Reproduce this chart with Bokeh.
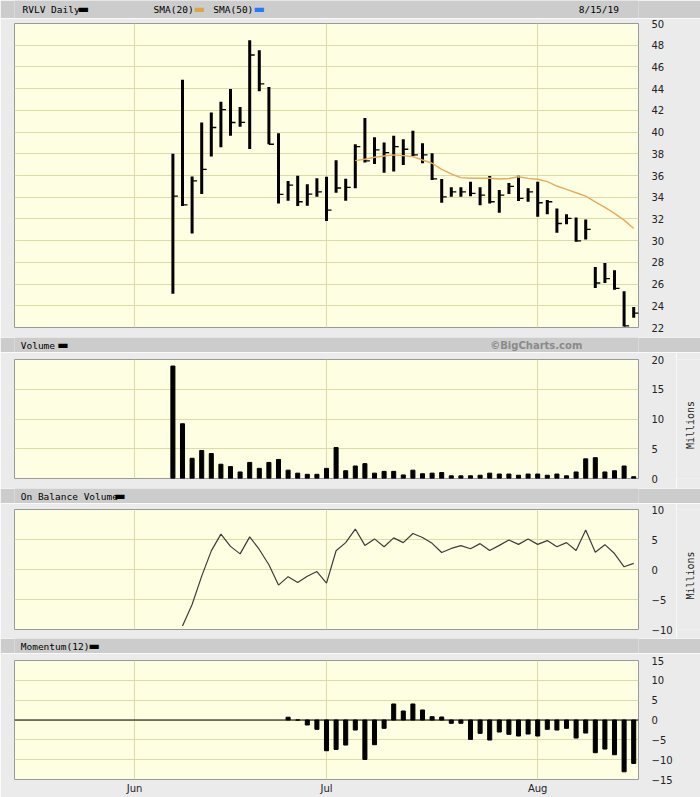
from math import pi
from bokeh.plotting import figure
from bokeh.layouts import column, row
from bokeh.models import Range1d, FixedTicker, Label, Span
from bokeh.embed import file_html
from bokeh.resources import INLINE

# ---------------- data ----------------
dates = ["6/7", "6/10", "6/11", "6/12", "6/13", "6/14", "6/17", "6/18", "6/19", "6/20",
         "6/21", "6/24", "6/25", "6/26", "6/27", "6/28", "7/1", "7/2", "7/3", "7/5",
         "7/8", "7/9", "7/10", "7/11", "7/12", "7/15", "7/16", "7/17", "7/18", "7/19",
         "7/22", "7/23", "7/24", "7/25", "7/26", "7/29", "7/30", "7/31", "8/1", "8/2",
         "8/5", "8/6", "8/7", "8/8", "8/9", "8/12", "8/13", "8/14", "8/15"]

high = [38.0, 44.83, 35.9, 40.88, 41.8, 42.8, 43.97, 42.3, 48.46, 47.54,
        44.15, 39.9, 35.49, 35.98, 35.19, 35.74, 35.89, 37.4, 35.7, 38.88,
        41.29, 39.53, 39.03, 39.65, 39.35, 40.12, 38.98, 38.05, 35.68, 34.91,
        34.91, 35.43, 34.91, 35.96, 34.66, 35.3, 35.97, 34.82, 35.43, 33.74,
        32.97, 32.44, 32.14, 31.95, 27.57, 27.94, 27.27, 25.35, 23.88]
low = [25.1, 33.18, 30.66, 34.3, 37.74, 38.6, 39.65, 40.5, 38.45, 43.75,
       38.88, 33.43, 33.67, 33.18, 33.21, 34.04, 31.82, 34.41, 33.67, 34.82,
       37.2, 37.07, 36.26, 36.36, 36.97, 37.8, 37.13, 35.59, 33.49, 34.04,
       34.04, 34.1, 33.27, 33.43, 32.57, 34.3, 33.66, 33.58, 32.19, 32.44,
       30.72, 31.52, 29.89, 30.1, 25.63, 26.1, 25.48, 22.1, 22.9]
close = [34.1, 33.3, 35.5, 36.57, 40.42, 42.06, 40.88, 40.9, 47.1, 44.43,
         38.88, 34.26, 35.12, 33.58, 34.29, 34.5, 32.81, 34.85, 34.9, 38.66,
         37.34, 38.36, 38.11, 38.66, 38.42, 37.9, 37.9, 35.68, 34.04, 34.5,
         34.5, 34.36, 34.2, 33.58, 34.2, 35.0, 33.9, 34.5, 33.49, 33.58,
         31.58, 32.05, 29.97, 31.03, 26.1, 26.5, 25.6, 22.15, 23.32]

# SMA(20): first value on the 20th trading day (7/5)
sma20 = [37.37, 37.5, 37.68, 37.8, 37.9, 37.83, 37.74, 37.43, 37.13, 36.57,
         36.14, 35.8, 35.74, 35.74, 35.74, 35.68, 35.72, 35.89, 35.74, 35.65,
         35.43, 35.03, 34.73, 34.41, 34.1, 33.58, 33.06, 32.51, 31.89, 31.12]

# volume, millions
volume = [18.9, 9.2, 3.4, 4.7, 4.2, 2.4, 2.0, 1.1, 2.7, 1.7,
          2.7, 3.2, 1.4, 0.9, 0.7, 0.7, 1.7, 5.2, 1.3, 2.1,
          2.5, 0.9, 1.2, 1.2, 0.6, 1.4, 0.8, 0.9, 1.0, 0.45,
          0.45, 0.45, 0.55, 0.9, 0.75, 0.75, 0.55, 0.75, 0.75, 0.55,
          0.75, 0.45, 1.1, 3.3, 3.5, 1.1, 1.3, 2.1, 0.3]

# on balance volume, millions (from the 2nd trading day)
obv = [-9.4, -5.84, -1.1, 3.1, 5.9, 3.85, 2.6, 5.44, 3.34, 0.8,
       -2.6, -1.19, -2.15, -1.13, -0.34, -2.27, 3.12, 4.48, 6.74, 4.02,
       5.1, 3.8, 5.27, 4.48, 6.0, 5.33, 4.36, 2.83, 3.51, 3.97,
       3.46, 4.31, 3.17, 4.02, 4.93, 4.19, 5.1, 4.19, 4.82, 3.8,
       4.48, 3.17, 6.57, 2.89, 4.14, 2.66, 0.45, 1.02]

# momentum(12) (from the 13th trading day)
momentum = [0.7, 0.0, -1.26, -2.36, -7.75, -7.41, -6.32, -2.53, -9.94, -6.23,
            -2.1, 4.04, 2.27, 4.04, 2.53, 0.84, 0.76, -0.84, -0.84, -4.89,
            -3.37, -5.05, -3.03, -3.62, -4.04, -3.54, -4.04, -2.36, -2.53, -2.1,
            -4.55, -3.29, -8.25, -7.33, -8.76, -13.06, -10.95]

# month boundaries on the trading-day axis (Jun 3, Jul 1, Aug 1)
month_ticks = [-4, 16, 38]
month_labels = ["Jun", "Jul", "Aug"]

price_ticks = list(range(22, 51, 2))
vol_ticks = [0, 5, 10, 15, 20]
obv_ticks = [-10, -5, 0, 5, 10]
mom_ticks = [-15, -10, -5, 0, 5, 10, 15]

x = list(range(len(dates)))
x_sma = x[len(x) - len(sma20):]
x_obv = x[len(x) - len(obv):]
x_mom = x[len(x) - len(momentum):]

# ---------------- styling ----------------
W = 700
SIDE_W = 24
FRAME_W = 624
BORDER_L = 14
BG = "#ebebeb"
BAND = "#cccccc"
PLOTBG = "#fefee2"
GRID = "#dcdca6"
MONO = "DejaVu Sans Mono"
SANS = "DejaVu Sans"

xr = Range1d(-16.5, 48.5)


def panel(width, height, top, frame_h, yr, yticks, bottom_axis=False):
    p = figure(width=width, height=height, x_range=xr, y_range=Range1d(*yr),
               output_backend="svg", toolbar_location=None,
               x_axis_location="below" if bottom_axis else None,
               y_axis_location="right",
               min_border_left=BORDER_L, min_border_right=width - BORDER_L - FRAME_W,
               min_border_top=top, min_border_bottom=height - top - frame_h,
               background_fill_color=PLOTBG, border_fill_color=BG,
               outline_line_color="#9a9a9a", outline_line_width=1)
    ax = p.yaxis[0]
    ax.ticker = FixedTicker(ticks=yticks)
    ax.axis_line_color = None
    ax.major_tick_line_color = None
    ax.minor_tick_line_color = None
    ax.major_label_standoff = 7
    ax.major_label_text_font = SANS
    ax.major_label_text_font_size = "10px"
    ax.major_label_text_color = "#222222"
    p.ygrid.ticker = FixedTicker(ticks=yticks)
    p.ygrid.grid_line_color = GRID
    p.xgrid.ticker = FixedTicker(ticks=month_ticks)
    p.xgrid.grid_line_color = GRID
    if bottom_axis:
        bx = p.xaxis[0]
        bx.ticker = FixedTicker(ticks=month_ticks)
        bx.major_label_overrides = {t: l for t, l in zip(month_ticks, month_labels)}
        bx.axis_line_color = None
        bx.major_tick_line_color = None
        bx.minor_tick_line_color = None
        bx.major_tick_out = 0
        bx.major_label_standoff = 3
        bx.major_label_text_font = SANS
        bx.major_label_text_font_size = "10px"
        bx.major_label_text_color = "#222222"
    return p


def side(height, top, frame_h, yr, ymid):
    s = figure(width=SIDE_W, height=height, x_range=Range1d(0, SIDE_W), y_range=Range1d(*yr),
               output_backend="svg", toolbar_location=None,
               x_axis_location=None, y_axis_location=None,
               min_border_left=0, min_border_right=0,
               min_border_top=top, min_border_bottom=height - top - frame_h,
               background_fill_color=BG, border_fill_color=BG, outline_line_color=None)
    s.xgrid.visible = False
    s.ygrid.visible = False
    s.add_layout(Label(x=14, y=ymid, text="Millions", angle=pi / 2, text_font=MONO,
                       text_font_size="10px", text_color="#222222",
                       text_align="center", text_baseline="middle"))
    return s


def band(height, text_mid, swatch_mid, items):
    b = figure(width=W, height=height, x_range=Range1d(0, W), y_range=Range1d(0, height),
               output_backend="svg", toolbar_location=None,
               x_axis_location=None, y_axis_location=None, min_border=0,
               background_fill_color=BAND, border_fill_color=BAND,
               outline_line_color=None)
    b.xgrid.visible = False
    b.ygrid.visible = False
    for (tx, text, color, font, size, style, align, kind) in items:
        ty = swatch_mid if kind == "swatch" else text_mid
        b.add_layout(Label(x=tx, y=ty, text=text, text_color=color,
                           text_font=font, text_font_size=size, text_font_style=style,
                           text_align=align, text_baseline="middle"))
    return b


def txt(tx, text, align="left", color="#000000", font=MONO, size="9.5px", style="normal"):
    return (tx, text, color, font, size, style, align, "text")


def swatch(tx, color):
    return (tx, "\u25ac", color, SANS, "12px", "normal", "left", "swatch")


# ---------------- header ----------------
header = band(18, 9.5, 9.3, [
    txt(9, "RVLV Daily"),
    swatch(71, "#000000"),
    txt(156, "SMA(20)"),
    swatch(201, "#d9a648"),
    txt(223, "SMA(50)"),
    swatch(268, "#1f7bff"),
    txt(678, "8/15/19", align="right"),
])

# ---------------- price ----------------
p_price = panel(W, 319, 5, 304, (22, 50), price_ticks)
p_price.segment(x0=x, y0=low, x1=x, y1=high, line_color="black", line_width=3)
p_price.ray(x=x, y=close, length=5, length_units="screen", angle=0,
            line_color="black", line_width=1.3)
p_price.line(x_sma, sma20, line_color="#e3ad5c", line_width=1.4)

# ---------------- volume ----------------
vol_band = band(15, 7.3, 7.3, [
    txt(7, "Volume"),
    swatch(48, "#000000"),
    txt(637, "\u00a9BigCharts.com", align="right", color="#8a8a8a", font=SANS,
        size="10px", style="bold"),
])
p_vol = panel(W - SIDE_W, 136, 7, 119, (0, 20), vol_ticks)
p_vol.vbar(x=x, top=volume, bottom=0, width=0.42, color="black")
vol_row = row(p_vol, side(136, 7, 119, (0, 20), 9), spacing=0)

# ---------------- on balance volume ----------------
obv_band = band(15, 7.3, 7.3, [
    txt(7, "On Balance Volume"),
    swatch(112, "#000000"),
])
p_obv = panel(W - SIDE_W, 135, 6, 120, (-10, 10), obv_ticks)
p_obv.line(x_obv, obv, line_color="#3c3c3c", line_width=1.2)
obv_row = row(p_obv, side(135, 6, 120, (-10, 10), -1), spacing=0)

# ---------------- momentum ----------------
mom_band = band(15, 7.3, 7.3, [
    txt(7, "Momentum(12)"),
    swatch(83, "#000000"),
])
p_mom = panel(W, 144, 7, 119, (-15, 15), mom_ticks, bottom_axis=True)
p_mom.add_layout(Span(location=0, dimension="width", line_color="black", line_width=1))
p_mom.vbar(x=x_mom, top=momentum, bottom=0, width=0.42, color="black")

layout = column(header, p_price, vol_band, vol_row, obv_band, obv_row, mom_band, p_mom,
                spacing=0)

open("out.html", "w").write(file_html(layout, INLINE))
